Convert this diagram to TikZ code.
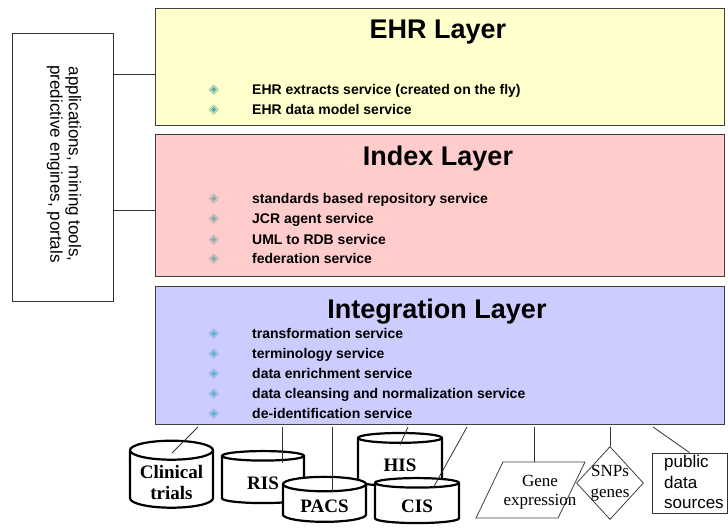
\documentclass[tikz,border=0pt]{standalone}
\usepackage{fontspec}
\setmainfont{Liberation Serif}
\setsansfont{Liberation Sans}
\newfontfamily\dvfont{DejaVu Sans}
\usetikzlibrary{shapes.geometric,positioning}

\definecolor{ehrfill}{HTML}{FFFFCC}
\definecolor{idxfill}{HTML}{FFCCCC}
\definecolor{intfill}{HTML}{CCCCFF}
\definecolor{ehrbul}{HTML}{5FAF9F}
\definecolor{idxbul}{HTML}{8FA9A9}
\definecolor{intbul}{HTML}{6AAED6}

\begin{document}
\begin{tikzpicture}[x=1pt, y=-1pt,
		layer box/.style={rectangle,draw=black!75,line width=0.8pt,minimum width=569pt,inner sep=0pt},
		layer title/.style={font=\fontsize{27}{30}\selectfont\bfseries\sffamily},
		item/.style={anchor=west,inner sep=0pt,text height=11pt,text depth=2pt,
			font=\fontsize{14}{16}\selectfont\bfseries\sffamily,
			label={[inner sep=0pt,label distance=33pt,text=#1,font=\fontsize{13}{15}\selectfont\dvfont]left:◈}},
		db node/.style={cylinder,shape border rotate=90,aspect=0.3,draw,line width=2.2pt,fill=white,
			inner sep=0pt,align=center,font=\fontsize{19}{21}\selectfont\bfseries\rmfamily,
			label={[align=center,yshift=-3pt,font=\fontsize{19}{21}\selectfont\bfseries\rmfamily]center:#1}},
		src line/.style={draw=black!80,line width=0.8pt}]
	
	\useasboundingbox (0,0) rectangle (728,528);
	
	% layers
	\node[layer box,fill=ehrfill,minimum height=117pt] (ehr) at (439.5,66.5) {};
	\node[layer box,fill=idxfill,minimum height=142pt] (idx) at (439.5,205) {};
	\node[layer box,fill=intfill,minimum height=138pt] (integ) at (439.5,355) {};
	
	\node[layer title] (ehrt) at (438,32) {EHR Layer};
	\node[item=ehrbul] (e1) at (252,90) {EHR extracts service (created on the fly)};
	\node[item=ehrbul] (e2) at (252,110) {EHR data model service};
	
	\node[layer title] (idxt) at (438,159) {Index Layer};
	\node[item=idxbul] (i1) at (252,199) {standards based repository service};
	\node[item=idxbul] (i2) at (252,219) {JCR agent service};
	\node[item=idxbul] (i3) at (252,240) {UML to RDB service};
	\node[item=idxbul] (i4) at (252,259) {federation service};
	
	\node[layer title] (intt) at (437,312) {Integration Layer};
	\node[item=intbul] (n1) at (252,334) {transformation service};
	\node[item=intbul] (n2) at (252,354) {terminology service};
	\node[item=intbul] (n3) at (252,374) {data enrichment service};
	\node[item=intbul] (n4) at (252,394) {data cleansing and normalization service};
	\node[item=intbul] (n5) at (252,414) {de-identification service};
	
	% applications box
	\node[rectangle,draw=black!80,line width=0.8pt,minimum width=101pt,minimum height=268pt] (apps) at (62.5,167) {};
	\node[rotate=-90,align=center,font=\fontsize{17}{18.5}\selectfont\sffamily] (appst) at (64,164)
		{applications, mining tools,\\predictive engines, portals};
	\coordinate (a1) at (155,74);
	\coordinate (a2) at (155,210);
	\draw[src line] (a1 -| apps.east) -- (a1);
	\draw[src line] (a2 -| apps.east) -- (a2);
	
	% data sources
	\node[db node={Clinical\\trials},minimum width=83pt,minimum height=67pt] (clin) at (171.5,479.5) {\phantom{Clinical}\\\phantom{trials}};
	\node[db node=RIS,minimum width=82pt,minimum height=52pt] (ris) at (263,480) {\phantom{RIS}};
	\node[db node=HIS,minimum width=84pt,minimum height=53pt] (his) at (400,462.5) {\phantom{HIS}};
	\node[db node=PACS,minimum width=83pt,minimum height=45pt] (pacs) at (324.5,503.5) {\phantom{PACS}};
	\node[db node=CIS,minimum width=84pt,minimum height=45pt] (cis) at (417,503.5) {\phantom{CIS}};
	
	\node[trapezium,trapezium left angle=64,trapezium right angle=116,trapezium stretches=true,
		draw=black!75,line width=0.8pt,minimum width=109pt,minimum height=56pt] (gene) at (530.5,490) {};
	\node[align=center,font=\fontsize{17}{19}\selectfont\rmfamily] (genet) at (540,492) {Gene\\expression};
	
	\node[diamond,draw=black!75,line width=0.8pt,minimum width=67pt,minimum height=73pt,inner sep=0pt] (snp) at (610,483) {};
	\node[align=center,font=\fontsize{17}{21}\selectfont\rmfamily] (snpt) at (610,483) {SNPs\\genes};
	
	\node[rectangle,draw=black!80,line width=0.8pt,minimum width=75pt,minimum height=60pt] (pub) at (689.5,483) {};
	\node[anchor=west,align=left,inner sep=0pt,font=\fontsize{17}{20.5}\selectfont\sffamily] (pubt) at (664,482) {public\\data\\sources};
	
	% links to the integration layer
	\coordinate (s1) at (198,427);  \coordinate (c1) at (172,453);
	\coordinate (s2) at (282,427);  \coordinate (c2) at (282,463);
	\coordinate (s3) at (332,427);  \coordinate (c3) at (332,492);
	\coordinate (s4) at (408,427);  \coordinate (c4) at (400,445);
	\coordinate (s5) at (467,427);  \coordinate (c5) at (433,488);
	\coordinate (s6) at (534,427);
	\coordinate (s7) at (610,427);
	\coordinate (s8) at (653,427);
	
	\path[src line]
	(s1) edge (c1)
	(s2) edge (c2)
	(s3) edge (c3)
	(s4) edge (c4)
	(s5) edge (c5)
	(s6) edge (s6 |- gene.north)
	(s7) edge (snp.north)
	(s8) edge (pub.north);
\end{tikzpicture}
\end{document}
